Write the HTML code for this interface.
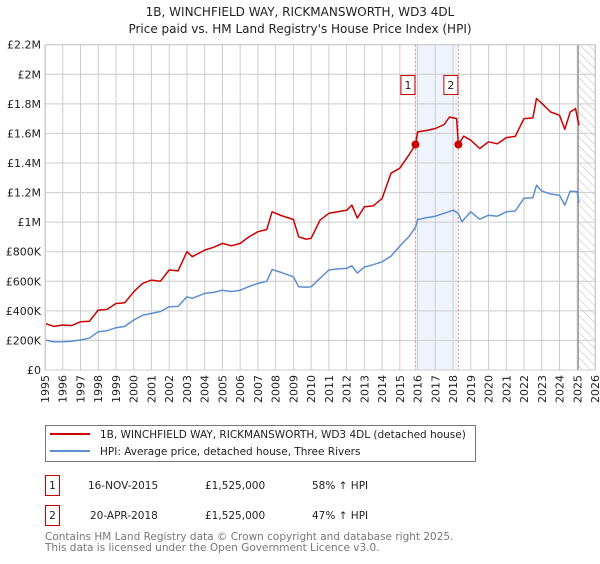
<!DOCTYPE html>
<html><head><meta charset="utf-8"><style>
body{margin:0;background:#fff;font-family:"DejaVu Sans","Liberation Sans",sans-serif;}
svg text{font-family:"DejaVu Sans","Liberation Sans",sans-serif;}
</style></head><body>
<svg id="c" width="600" height="560" viewBox="0 0 600 560">
<defs><pattern id="hatch" width="6" height="6" patternUnits="userSpaceOnUse" patternTransform="rotate(-45)"><line x1="0" y1="0" x2="0" y2="6" stroke="#bbb" stroke-width="1"/></pattern></defs>
<text x="300" y="16" text-anchor="middle" font-size="12" fill="#222">1B, WINCHFIELD WAY, RICKMANSWORTH, WD3 4DL</text>
<text x="300" y="33" text-anchor="middle" font-size="12" fill="#222">Price paid vs. HM Land Registry's House Price Index (HPI)</text>
<g id="plot"></g>
<g>
<rect x="45.5" y="425.5" width="430" height="36" fill="#fff" stroke="#777"/>
<line x1="50" y1="434" x2="90" y2="434" stroke="#cc0000" stroke-width="2"/>
<text x="100" y="438" font-size="10.5" fill="#222">1B, WINCHFIELD WAY, RICKMANSWORTH, WD3 4DL (detached house)</text>
<line x1="50" y1="451" x2="90" y2="451" stroke="#5b8fd0" stroke-width="2"/>
<text x="100" y="455" font-size="10.5" fill="#222">HPI: Average price, detached house, Three Rivers</text>
</g>
<g font-size="10.5" fill="#222">
<rect x="45.5" y="475.5" width="14" height="20" fill="#fff" stroke="#cc0000"/>
<text x="52.5" y="489" text-anchor="middle">1</text>
<text x="88" y="489">16-NOV-2015</text><text x="205" y="489">£1,525,000</text><text x="312" y="489">58% ↑ HPI</text>
<rect x="45.5" y="505.5" width="14" height="20" fill="#fff" stroke="#cc0000"/>
<text x="52.5" y="519" text-anchor="middle">2</text>
<text x="90" y="519">20-APR-2018</text><text x="205" y="519">£1,525,000</text><text x="312" y="519">47% ↑ HPI</text>
</g>
<text x="45" y="540" font-size="10.5" fill="#777">Contains HM Land Registry data © Crown copyright and database right 2025.</text>
<text x="45" y="551" font-size="10.5" fill="#777">This data is licensed under the Open Government Licence v3.0.</text>
</svg>
<script>
const yTicks=[0,200000,400000,600000,800000,1000000,1200000,1400000,1600000,1800000,2000000,2200000];
const yTickLabels=["£0","£200K","£400K","£600K","£800K","£1M","£1.2M","£1.4M","£1.6M","£1.8M","£2M","£2.2M"];
const xYears=[1995,1996,1997,1998,1999,2000,2001,2002,2003,2004,2005,2006,2007,2008,2009,2010,2011,2012,2013,2014,2015,2016,2017,2018,2019,2020,2021,2022,2023,2024,2025,2026];
const hpiT=[1995,1995.5,1996,1996.5,1997,1997.5,1998,1998.5,1999,1999.5,2000,2000.5,2001,2001.5,2002,2002.5,2003,2003.3,2004,2004.5,2005,2005.5,2006,2006.5,2007,2007.5,2007.8,2008.3,2009,2009.3,2009.7,2010,2010.5,2011,2011.5,2012,2012.3,2012.6,2013,2013.5,2014,2014.5,2015,2015.5,2015.88,2016,2016.5,2017,2017.5,2018,2018.3,2018.5,2019,2019.5,2020,2020.5,2021,2021.5,2022,2022.5,2022.7,2023,2023.5,2024,2024.3,2024.6,2025,2025.1];
const hpiV=[203,190,191,195,203,215,259,266,286,295,338,370,383,395,428,430,495,485,518,525,540,530,540,565,586,600,680,660,630,563,560,563,620,676,684,687,705,655,696,712,732,770,838,900,966,1018,1030,1040,1060,1081,1060,1002,1070,1020,1047,1040,1070,1075,1162,1165,1250,1210,1190,1182,1115,1210,1205,1130];
const redT=[1995,1995.5,1996,1996.5,1997,1997.5,1998,1998.5,1999,1999.5,2000,2000.5,2001,2001.5,2002,2002.5,2003,2003.3,2004,2004.5,2005,2005.5,2006,2006.5,2007,2007.5,2007.8,2008.3,2009,2009.3,2009.7,2010,2010.5,2011,2011.5,2012,2012.3,2012.6,2013,2013.5,2014,2014.5,2015,2015.5,2015.88,2016,2016.5,2017,2017.5,2017.8,2018.2,2018.3,2018.6,2019,2019.5,2020,2020.5,2021,2021.5,2022,2022.5,2022.7,2023,2023.5,2024,2024.3,2024.6,2024.9,2025.1];
const redV=[315,295,304,300,326,330,405,410,450,455,529,586,608,600,676,670,800,766,811,830,856,840,856,900,935,950,1070,1045,1018,901,885,890,1013,1060,1070,1080,1115,1027,1104,1110,1160,1331,1365,1452,1525,1610,1620,1633,1660,1711,1700,1525,1581,1554,1498,1543,1530,1572,1580,1700,1705,1836,1804,1745,1723,1628,1745,1768,1655];
const sales=[[2015.88,1525000,"1"],[2018.3,1525000,"2"]];
const L=45,R=595,T=44.7,B=370;
const X=t=>L+(t-1995)/(2026-1995)*(R-L);
const Y=v=>B-v/2200000*(B-T);
const NS="http://www.w3.org/2000/svg";
const g=document.getElementById('plot');
function mk(tag,attrs){const e=document.createElementNS(NS,tag);for(const k in attrs)e.setAttribute(k,attrs[k]);g.appendChild(e);return e;}
let e;
e=mk('rect',{x:X(2015.88),y:T,width:X(2018.3)-X(2015.88),height:B-T,fill:'#eef3fc'});


e=mk('rect',{x:X(2025.05),y:T,width:R-X(2025.05),height:B-T,fill:'url(#hatch)'});


yTicks.forEach((v,i)=>{
 e=mk('line',{x1:L,x2:R,y1:Y(v),y2:Y(v),stroke:'#ccc','stroke-width':1});
 
 
 e=mk('text',{x:L-4,y:Y(v)+4,'text-anchor':'end','font-size':11,fill:'#222'});e.textContent=yTickLabels[i];
 
 
});
xYears.forEach(yr=>{
 e=mk('line',{x1:X(yr),x2:X(yr),y1:T,y2:B,stroke:'#ccc','stroke-width':1});
 
 
 e=mk('text',{x:0,y:0,'font-size':11,fill:'#222','text-anchor':'end',transform:`translate(${X(yr)+4},${B+5}) rotate(-90)`});e.textContent=yr;
 
 
});
e=mk('line',{x1:X(2025.05),x2:X(2025.05),y1:T,y2:B,stroke:'#888','stroke-width':1.2});


sales.forEach(s=>{
 e=mk('line',{x1:X(s[0]),x2:X(s[0]),y1:T,y2:B,stroke:'#f08080','stroke-width':1,'stroke-dasharray':'2,2'});
 
 
});
function path(ts,vs,col,name){
 const d=ts.map((t,i)=>(i?'L':'M')+X(t).toFixed(1)+','+Y(vs[i]*1000).toFixed(1)).join('');
 e=mk('path',{d:d,fill:'none',stroke:col,'stroke-width':1.5,'stroke-linejoin':'round'});
 
 
}
path(hpiT,hpiV,'#5b8fd0','hpi-line');
path(redT,redV,'#cc0000','property-price-line');
sales.forEach(s=>{
 e=mk('circle',{cx:X(s[0]),cy:Y(s[1]),r:4,fill:'#cc0000'});
 
 
 e=mk('rect',{x:X(s[0])-14.5,y:75.5,width:14,height:19,fill:'#fff',stroke:'#cc0000'});
 
 
 e=mk('text',{x:X(s[0])-7.5,y:89,'text-anchor':'middle','font-size':11,fill:'#222'});e.textContent=s[2];
 
 
});
e=mk('rect',{x:L+0.5,y:T,width:R-L,height:B-T,fill:'none',stroke:'#ccc'});


</script>
</body></html>
